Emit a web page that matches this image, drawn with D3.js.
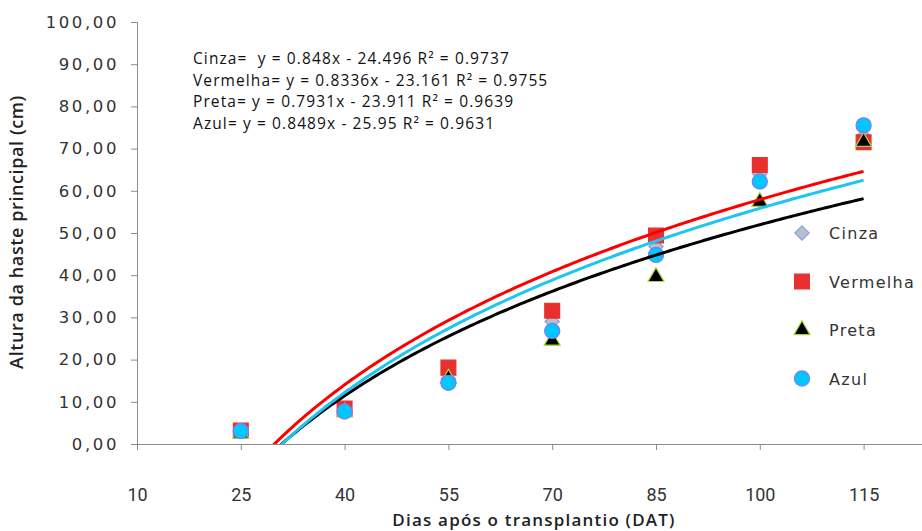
<!DOCTYPE html>
<html>
<head>
<meta charset="utf-8">
<script src="https://cdn.jsdelivr.net/npm/d3@7"></script>
<style>
  body { margin: 0; background: white; }
  svg { display: block; }
</style>
</head>
<body>
<div id="chart"></div>
<script>
// Data
let days = [25, 40, 55, 70, 85, 100, 115]
let cinza = [3.0, 8.0, 15.5, 29.0, 46.8, 64.0, 73.0]
let vermelha = [3.2, 8.4, 18.1, 31.6, 49.4, 66.1, 71.5]
let preta = [2.5, 7.5, 15.5, 24.5, 39.6, 57.4, 71.6]
let azul = [3.1, 7.7, 14.5, 26.8, 44.8, 62.2, 75.5]
let seriesNames = ['Cinza', 'Vermelha', 'Preta', 'Azul']
let xTicks = [10, 25, 40, 55, 70, 85, 100, 115, 130]
let yTicks = [0, 10, 20, 30, 40, 50, 60, 70, 80, 90, 100]
let equations = [
  'Cinza=  y = 0.848x - 24.496 R\u00b2 = 0.9737',
  'Vermelha= y = 0.8336x - 23.161 R\u00b2 = 0.9755',
  'Preta= y = 0.7931x - 23.911 R\u00b2 = 0.9639',
  'Azul= y = 0.8489x - 25.95 R\u00b2 = 0.9631'
]

let chart = {
  width: 922,
  height: 531,
  left: 137,
  top: 22,
  bottom: 444
}

chart.svg = d3.select('#chart')
  .append('svg')
  .attr('width', chart.width)
  .attr('height', chart.height)

// axis runs past the right edge of the picture, as in the original crop
let x = d3.scaleLinear().domain([10, 130]).range([chart.left, chart.left + 8 * 103.8])
let y = d3.scaleLinear().domain([0, 100]).range([chart.bottom, chart.top])

let series = [
  { name: seriesNames[0], values: cinza, shape: 'diamond', fill: '#b7bfcc', stroke: '#86a2e0', trend: null },
  { name: seriesNames[1], values: vermelha, shape: 'square', fill: '#e8312e', stroke: '#e8312e', trend: '#ff0000' },
  { name: seriesNames[2], values: preta, shape: 'triangle', fill: '#000000', stroke: '#a6d63c', trend: '#000000' },
  { name: seriesNames[3], values: azul, shape: 'circle', fill: '#00c8ff', stroke: '#7d7cf2', trend: '#1cc6f0' }
]

// Axes
let yAxis = chart.svg.append('g')
  .attr('transform', `translate(${chart.left},0)`)
  .call(d3.axisLeft(y).tickValues(yTicks).tickSize(6).tickPadding(12)
    .tickFormat(d => d3.format('.2f')(d).replace('.', ',')))

yAxis.selectAll('text')
  .style('font-family', 'DejaVu Sans')
  .style('font-size', '16.5px')
  .style('letter-spacing', '2.6px')
  .attr('fill', '#333')

let xAxis = chart.svg.append('g')
  .attr('transform', `translate(0,${chart.bottom})`)
  .call(d3.axisBottom(x).tickValues(xTicks).tickSize(6).tickPadding(38)
    .tickFormat(d => d < 130 ? d : ''))

xAxis.selectAll('text')
  .style('font-family', 'Roboto')
  .style('font-size', '18px')
  .attr('fill', '#333')

chart.svg.selectAll('.domain, .tick line').attr('stroke', '#8c8c8c')

// Axis titles
chart.svg.append('text')
  .attr('transform', `translate(23,232) rotate(-90)`)
  .attr('text-anchor', 'middle')
  .style('font-family', 'Open Sans')
  .style('font-weight', '600')
  .style('font-size', '18px')
  .style('letter-spacing', '0.6px')
  .attr('fill', '#222')
  .text('Altura da haste principal (cm)')

chart.svg.append('text')
  .attr('x', 534)
  .attr('y', 526)
  .attr('text-anchor', 'middle')
  .style('font-family', 'Open Sans')
  .style('font-weight', '600')
  .style('font-size', '17px')
  .style('letter-spacing', '1.2px')
  .attr('fill', '#222')
  .text('Dias após o transplantio (DAT)')

// Markers
function symbolFor(shape) {
  if (shape === 'diamond') return d3.symbol().type(d3.symbolDiamond2).size(130)
  if (shape === 'square') return d3.symbol().type(d3.symbolSquare).size(220)
  if (shape === 'triangle') return d3.symbol().type(d3.symbolTriangle).size(110)
  return d3.symbol().type(d3.symbolCircle).size(180)
}

series.forEach(s => {
  chart.svg.append('g')
    .selectAll('path')
    .data(s.values)
    .enter()
    .append('path')
    .attr('transform', (d, i) => `translate(${x(days[i])},${y(d)})`)
    .attr('d', symbolFor(s.shape))
    .attr('fill', s.fill)
    .attr('stroke', s.stroke)
    .attr('stroke-width', 1.2)
})

// Logarithmic trendlines fitted to each series
function logFit(values) {
  let lx = days.map(d => Math.log(d))
  let mx = d3.mean(lx)
  let my = d3.mean(values)
  let sxy = d3.sum(lx, (v, i) => (v - mx) * (values[i] - my))
  let sxx = d3.sum(lx, v => (v - mx) * (v - mx))
  let a = sxy / sxx
  return { a: a, b: my - a * mx }
}

chart.svg.append('clipPath')
  .attr('id', 'plot-clip')
  .append('rect')
  .attr('x', chart.left)
  .attr('y', chart.top)
  .attr('width', chart.width - chart.left)
  .attr('height', chart.bottom - chart.top)

let trendLine = d3.line().x(d => x(d[0])).y(d => y(d[1]))

series.filter(s => s.trend).forEach(s => {
  let fit = logFit(s.values)
  let pts = d3.range(25, 115.5, 0.5).map(d => [d, fit.a * Math.log(d) + fit.b])
  chart.svg.append('path')
    .attr('clip-path', 'url(#plot-clip)')
    .attr('d', trendLine(pts))
    .attr('fill', 'none')
    .attr('stroke', s.trend)
    .attr('stroke-width', 3)
})

// Equations
chart.svg.append('g')
  .selectAll('text')
  .data(equations)
  .enter()
  .append('text')
  .attr('x', 193)
  .attr('y', (d, i) => 64 + i * 21.7)
  .style('font-family', 'Open Sans')
  .style('font-size', '15.5px')
  .style('letter-spacing', '1.1px')
  .style('white-space', 'pre')
  .attr('fill', '#111')
  .text(d => d)

// Legend
let legend = chart.svg.append('g')
  .selectAll('g')
  .data(series)
  .enter()
  .append('g')
  .attr('transform', (d, i) => `translate(802,${233 + i * 48.5})`)

legend.append('path')
  .attr('d', d => symbolFor(d.shape)())
  .attr('fill', d => d.fill)
  .attr('stroke', d => d.stroke)
  .attr('stroke-width', 1.2)

legend.append('text')
  .attr('x', 27)
  .attr('y', 6)
  .style('font-family', 'DejaVu Sans')
  .style('font-size', '16px')
  .style('letter-spacing', '1.3px')
  .attr('fill', '#333')
  .text(d => d.name)
</script>
</body>
</html>
